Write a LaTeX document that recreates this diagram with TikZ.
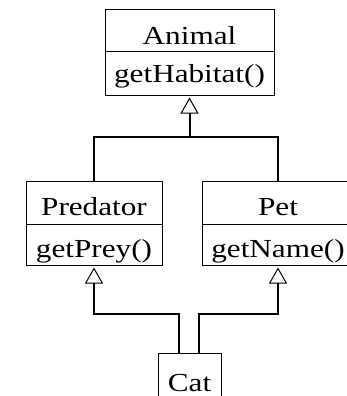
\documentclass[tikz,border=0pt]{standalone}
\usepackage{fontspec}
\setmainfont{Liberation Serif}[FakeStretch=1.2]
\usetikzlibrary{arrows.meta}
\begin{document}
\begin{tikzpicture}[x=1pt,y=-1pt,
  box/.style={draw=black,line width=1pt,inner sep=0pt,minimum width=#1},
  lbl/.style={anchor=base,inner sep=0pt,font=\fontsize{26}{30}\selectfont},
  conn/.style={draw=black,line width=2pt},
  inh/.style={conn,-{Triangle[length=16pt,width=18pt,line width=1pt,fill=white]}}]
\path[use as bounding box] (0,0) rectangle (347,396);
\clip (0,0) rectangle (347,396);
% Animal
\node[box=169pt,minimum height=42pt] (animalN) at (189.5,31) {};
\node[box=169pt,minimum height=43pt] (animalM) at (189.5,73.5) {};
\node[lbl] (tAnimal) at (189.5,45) {Animal};
\node[lbl] (tHab) at (189.5,82) {getHabitat()};
% Predator
\node[box=136pt,minimum height=43pt] (predN) at (94,202.5) {};
\node[box=136pt,minimum height=41pt] (predM) at (94,244.5) {};
\node[lbl] (tPred) at (94,215) {Predator};
\node[lbl] (tPrey) at (94,257) {getPrey()};
% Pet
\node[box=152pt,minimum height=43pt] (petN) at (278,202.5) {};
\node[box=152pt,minimum height=41pt] (petM) at (278,244.5) {};
\node[lbl] (tPet) at (278,215) {Pet};
\node[lbl] (tName) at (278,257) {getName()};
% Cat
\node[box=63pt,minimum height=54pt] (cat) at (189.5,380) {};
\node[lbl] (tCat) at (189.5,391) {Cat};
% connectors
\draw[conn] (predN.north) -- ++(0,44pt) -| (petN.north);
\draw[inh] ([yshift=44pt]predN.north -| animalM.south) -- ([yshift=-2pt]animalM.south);
\draw[inh] ([xshift=-10.5pt]cat.north) |- ([yshift=-48pt]predM.south) -- ([yshift=-2pt]predM.south);
\draw[inh] ([xshift=9.5pt]cat.north) |- ([yshift=-48pt]petM.south) -- ([yshift=-2pt]petM.south);
\end{tikzpicture}
\end{document}
